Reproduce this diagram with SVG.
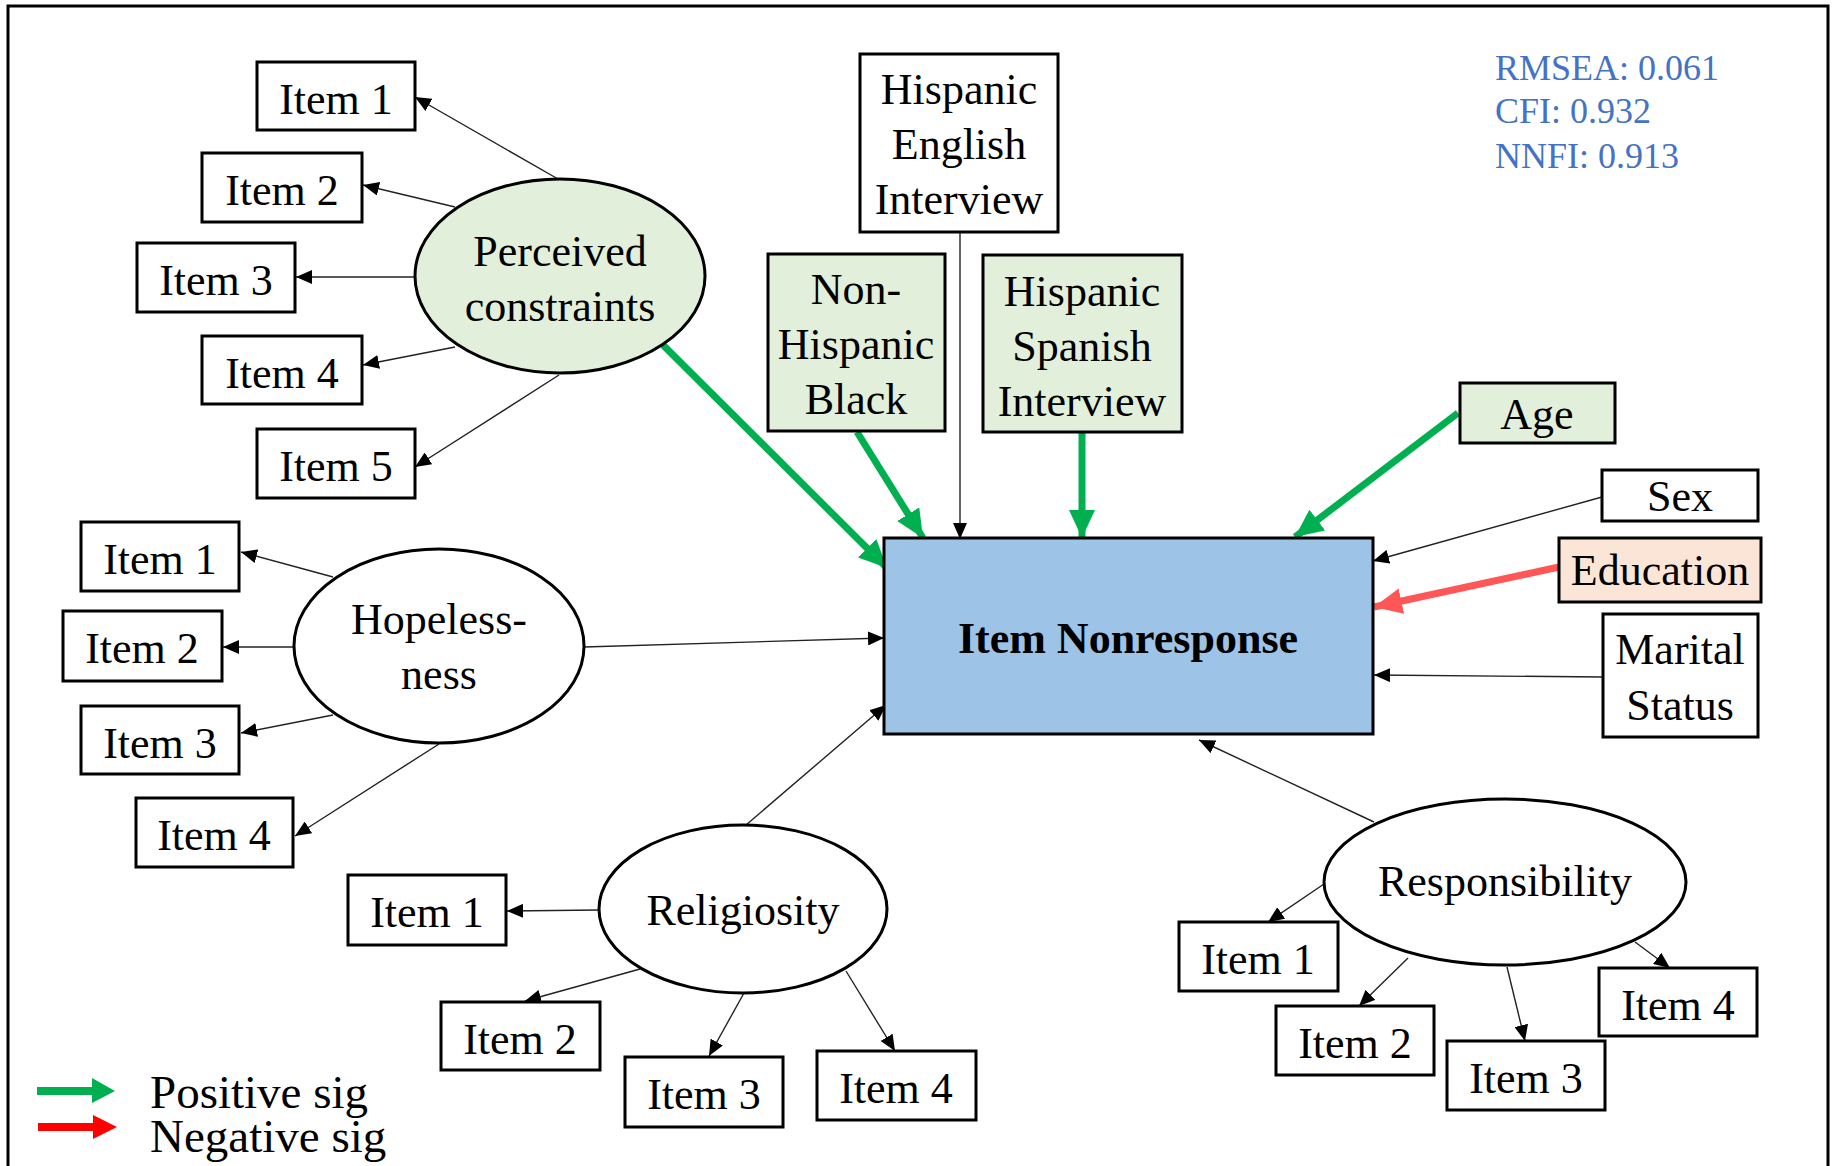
<svg xmlns="http://www.w3.org/2000/svg" width="1837" height="1166" viewBox="0 0 1837 1166">
  <style>
    text { font-family: "Liberation Serif", "Times New Roman", serif; font-size: 44px; fill: #000; text-anchor: middle; }
    .box { fill: #fff; stroke: #000; stroke-width: 3; }
    .sig { fill: #E2EFDA; stroke: #000; stroke-width: 3; }
    .neg { fill: #FBE5D6; stroke: #000; stroke-width: 3; }
    .lat { fill: #fff; stroke: #000; stroke-width: 3; }
    .thin { stroke: #222; stroke-width: 1.4; fill: none; marker-end: url(#ah); }
    .pos { stroke: #00B050; stroke-width: 7; fill: none; marker-end: url(#ahG); }
    .negl { stroke: #FF5757; stroke-width: 7; fill: none; marker-end: url(#ahR); }
    .fit { fill: #4472C4; font-size: 36px; text-anchor: start; }
    .leg { font-size: 47px; text-anchor: start; }
  </style>
  <defs>
    <marker id="ah" viewBox="0 0 16 14" markerWidth="16" markerHeight="14" refX="16" refY="7" orient="auto" markerUnits="userSpaceOnUse">
      <path d="M0,0 L16,7 L0,14 z" fill="#000"/>
    </marker>
    <marker id="ahG" viewBox="0 0 28 26" markerWidth="28" markerHeight="26" refX="28" refY="13" orient="auto" markerUnits="userSpaceOnUse">
      <path d="M0,0 L28,13 L0,26 z" fill="#00B050"/>
    </marker>
    <marker id="ahR" viewBox="0 0 28 26" markerWidth="28" markerHeight="26" refX="28" refY="13" orient="auto" markerUnits="userSpaceOnUse">
      <path d="M0,0 L28,13 L0,26 z" fill="#FF5757"/>
    </marker>
  </defs>

  <rect width="1837" height="1166" fill="#fff"/>
  <!-- frame -->
  <path d="M8,1166 V6 H1828 V1166" fill="none" stroke="#000" stroke-width="3"/>

  <!-- connectors -->
  <g id="connectors">
    <!-- perceived constraints indicators -->
    <line class="thin" x1="558" y1="179" x2="415" y2="97"/>
    <line class="thin" x1="455" y1="207" x2="363" y2="185"/>
    <line class="thin" x1="415" y1="277" x2="296" y2="277"/>
    <line class="thin" x1="455" y1="347" x2="363" y2="365"/>
    <line class="thin" x1="559" y1="375" x2="415" y2="467"/>
    <!-- hopelessness indicators -->
    <line class="thin" x1="333" y1="577" x2="241" y2="552"/>
    <line class="thin" x1="294" y1="647" x2="223" y2="647"/>
    <line class="thin" x1="333" y1="715" x2="241" y2="733"/>
    <line class="thin" x1="439" y1="744" x2="295" y2="836"/>
    <!-- religiosity indicators -->
    <line class="thin" x1="599" y1="910" x2="507" y2="911"/>
    <line class="thin" x1="640" y1="969" x2="525" y2="1001"/>
    <line class="thin" x1="744" y1="993" x2="709" y2="1056"/>
    <line class="thin" x1="846" y1="971" x2="895" y2="1051"/>
    <!-- responsibility indicators -->
    <line class="thin" x1="1324" y1="884" x2="1268" y2="922"/>
    <line class="thin" x1="1408" y1="958" x2="1359" y2="1006"/>
    <line class="thin" x1="1507" y1="967" x2="1525" y2="1041"/>
    <line class="thin" x1="1635" y1="942" x2="1670" y2="968"/>
    <!-- paths to item nonresponse -->
    <line class="thin" x1="584" y1="647" x2="884" y2="638"/>
    <line class="thin" x1="746" y1="825" x2="886" y2="705"/>
    <line class="thin" x1="1374" y1="822" x2="1199" y2="740"/>
    <line class="thin" x1="960" y1="232" x2="960" y2="539"/>
    <line class="thin" x1="1602" y1="497" x2="1373" y2="561"/>
    <line class="thin" x1="1603" y1="677" x2="1374" y2="675"/>
    <line class="pos" x1="663" y1="345" x2="887" y2="568"/>
    <line class="pos" x1="857" y1="432" x2="923" y2="538"/>
    <line class="pos" x1="1082" y1="433" x2="1082" y2="538"/>
    <line class="pos" x1="1458" y1="413" x2="1295" y2="537"/>
    <line class="negl" x1="1559" y1="567" x2="1374" y2="607"/>
  </g>

  <!-- outcome -->
  <g id="item-nonresponse">
    <rect x="884" y="538" width="489" height="196" fill="#9DC3E6" stroke="#000" stroke-width="3"/>
    <text x="1128" y="653" font-weight="bold" font-size="45">Item Nonresponse</text>
  </g>

  <!-- latent: perceived constraints -->
  <g id="perceived-constraints">
    <ellipse class="sig" cx="560" cy="276" rx="145" ry="97"/>
    <text x="560" y="266">Perceived</text>
    <text x="560" y="321">constraints</text>
  </g>
  <g id="pc-item1"><rect class="box" x="257" y="62" width="158" height="68"/><text x="336" y="114">Item 1</text></g>
  <g id="pc-item2"><rect class="box" x="202" y="153" width="160" height="69"/><text x="282" y="205">Item 2</text></g>
  <g id="pc-item3"><rect class="box" x="137" y="243" width="158" height="69"/><text x="216" y="295">Item 3</text></g>
  <g id="pc-item4"><rect class="box" x="202" y="336" width="160" height="68"/><text x="282" y="388">Item 4</text></g>
  <g id="pc-item5"><rect class="box" x="257" y="429" width="158" height="69"/><text x="336" y="481">Item 5</text></g>

  <!-- latent: hopelessness -->
  <g id="hopelessness">
    <ellipse class="lat" cx="439" cy="646" rx="145" ry="97"/>
    <text x="439" y="634">Hopeless-</text>
    <text x="439" y="689">ness</text>
  </g>
  <g id="hp-item1"><rect class="box" x="81" y="522" width="158" height="69"/><text x="160" y="574">Item 1</text></g>
  <g id="hp-item2"><rect class="box" x="63" y="611" width="159" height="70"/><text x="142" y="663">Item 2</text></g>
  <g id="hp-item3"><rect class="box" x="81" y="706" width="158" height="68"/><text x="160" y="758">Item 3</text></g>
  <g id="hp-item4"><rect class="box" x="136" y="798" width="157" height="69"/><text x="214" y="850">Item 4</text></g>

  <!-- latent: religiosity -->
  <g id="religiosity">
    <ellipse class="lat" cx="743" cy="909" rx="144" ry="84"/>
    <text x="743" y="925">Religiosity</text>
  </g>
  <g id="rl-item1"><rect class="box" x="348" y="875" width="158" height="70"/><text x="427" y="927">Item 1</text></g>
  <g id="rl-item2"><rect class="box" x="441" y="1002" width="159" height="68"/><text x="520" y="1054">Item 2</text></g>
  <g id="rl-item3"><rect class="box" x="625" y="1057" width="158" height="70"/><text x="704" y="1109">Item 3</text></g>
  <g id="rl-item4"><rect class="box" x="817" y="1051" width="159" height="69"/><text x="896" y="1103">Item 4</text></g>

  <!-- latent: responsibility -->
  <g id="responsibility">
    <ellipse class="lat" cx="1505" cy="882" rx="181" ry="83"/>
    <text x="1505" y="896">Responsibility</text>
  </g>
  <g id="rs-item1"><rect class="box" x="1179" y="922" width="159" height="69"/><text x="1258" y="974">Item 1</text></g>
  <g id="rs-item2"><rect class="box" x="1276" y="1006" width="158" height="69"/><text x="1355" y="1058">Item 2</text></g>
  <g id="rs-item3"><rect class="box" x="1447" y="1041" width="158" height="69"/><text x="1526" y="1093">Item 3</text></g>
  <g id="rs-item4"><rect class="box" x="1599" y="968" width="158" height="68"/><text x="1678" y="1020">Item 4</text></g>

  <!-- observed predictors -->
  <g id="hispanic-english">
    <rect class="box" x="860" y="54" width="198" height="178"/>
    <text x="959" y="104">Hispanic</text>
    <text x="959" y="159">English</text>
    <text x="959" y="214">Interview</text>
  </g>
  <g id="non-hispanic-black">
    <rect class="sig" x="768" y="254" width="177" height="177"/>
    <text x="856" y="304">Non-</text>
    <text x="856" y="359">Hispanic</text>
    <text x="856" y="414">Black</text>
  </g>
  <g id="hispanic-spanish">
    <rect class="sig" x="983" y="255" width="199" height="177"/>
    <text x="1082" y="306">Hispanic</text>
    <text x="1082" y="361">Spanish</text>
    <text x="1082" y="416">Interview</text>
  </g>
  <g id="age">
    <rect class="sig" x="1460" y="383" width="155" height="60"/>
    <text x="1537" y="429">Age</text>
  </g>
  <g id="sex">
    <rect class="box" x="1602" y="470" width="156" height="51"/>
    <text x="1680" y="511">Sex</text>
  </g>
  <g id="education">
    <rect class="neg" x="1559" y="538" width="202" height="64"/>
    <text x="1660" y="585">Education</text>
  </g>
  <g id="marital-status">
    <rect class="box" x="1603" y="614" width="155" height="123"/>
    <text x="1680" y="664">Marital</text>
    <text x="1680" y="720">Status</text>
  </g>

  <!-- fit indices -->
  <g id="fit">
    <text class="fit" x="1495" y="80">RMSEA: 0.061</text>
    <text class="fit" x="1495" y="123">CFI: 0.932</text>
    <text class="fit" x="1495" y="168">NNFI: 0.913</text>
  </g>

  <!-- legend -->
  <g id="legend">
    <rect x="37" y="1087" width="56" height="8" fill="#00B050"/>
    <polygon points="92,1078 115,1091 92,1103" fill="#00B050"/>
    <rect x="38" y="1123" width="56" height="8" fill="#FF0000"/>
    <polygon points="93,1115 117,1127 93,1139" fill="#FF0000"/>
    <text class="leg" x="150" y="1108">Positive sig</text>
    <text class="leg" x="150" y="1152">Negative sig</text>
  </g>
</svg>
